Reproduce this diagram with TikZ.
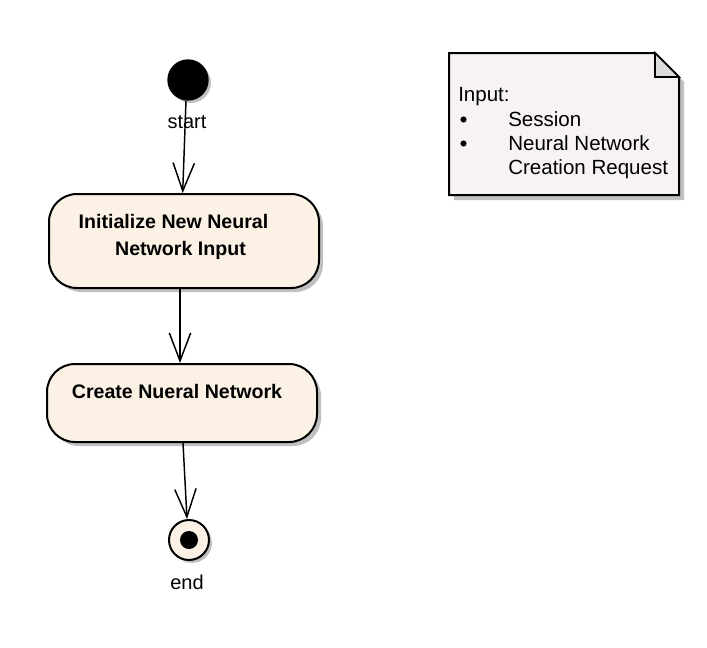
\documentclass[tikz,border=0pt]{standalone}
\usepackage{fontspec}
\setmainfont{Liberation Sans}
\usetikzlibrary{arrows.meta}
\definecolor{actfill}{RGB}{251,241,228}
\definecolor{notefill}{RGB}{246,242,246}
\definecolor{shadowc}{RGB}{192,192,192}
\definecolor{foldc}{RGB}{220,220,220}
\begin{document}
\begin{tikzpicture}[x=0.75pt,y=-0.75pt,
  shadowed/.style={preaction={fill=shadowc, draw=none, transform canvas={shift={(#1,-#1)}}}},
  shadowed/.default=3pt,
  activity/.style={draw=black, line width=1.5pt, fill=actfill, rounded corners=21pt,
    minimum width=202.5pt, inner sep=0pt, shadowed},
  startnode/.style={circle, fill=black, draw=black, line width=1pt, minimum size=30pt, inner sep=0pt, shadowed=2.2pt},
  endnode/.style={circle, fill=actfill, draw=black, line width=1.5pt, minimum size=30pt, inner sep=0pt, shadowed=2.2pt},
  enddot/.style={circle, fill=black, minimum size=13.5pt, inner sep=0pt},
  bulletdot/.style={circle, fill=black, minimum size=4.6pt, inner sep=0pt},
  acttext/.style={font=\bfseries\fontsize{14.7}{17}\selectfont, anchor=base, inner sep=0pt},
  lbl/.style={font=\fontsize{15}{18}\selectfont, anchor=base, inner sep=0pt},
  notetext/.style={font=\fontsize{15.4}{18}\selectfont, anchor=base west, inner sep=0pt},
  conn/.style={line width=1.1pt, -{Straight Barb[length=21pt, width=16pt, line width=1.1pt]}}
]
\useasboundingbox (0,0) rectangle (707,647);
% note
\fill[shadowc] (454,58)--(660,58)--(684,82)--(684,200)--(454,200)--cycle;
\filldraw[fill=notefill, line width=1.5pt, line join=miter] (449,53)--(655,53)--(679,77)--(679,195)--(449,195)--cycle;
\filldraw[fill=foldc, line width=1.2pt, line join=miter] (655,53)--(655,77)--(679,77)--cycle;
\node[notetext] (ninput) at (458,101.5) {Input:};
\node[bulletdot] (nb1) at (463.5,119.5) {};
\node[notetext] (ns1) at (508,126) {Session};
\node[bulletdot] (nb2) at (463.5,143.5) {};
\node[notetext] (ns2) at (508,150) {Neural Network};
\node[notetext] (ns3) at (508,174) {Creation Request};
% flow
\node[startnode] (start) at (188,80) {};
\node[lbl] (startlbl) at (187,128) {start};
\node[activity, minimum height=70.5pt] (act1) at (184,241) {};
\node[acttext] (t1a) at (173.5,228) {Initialize New Neural};
\node[acttext] (t1b) at (180.5,255) {Network Input};
\node[activity, minimum height=58.5pt] (act2) at (182,403) {};
\node[acttext] (t2) at (177,398) {Create Nueral Network};
\node[endnode] (end) at (189,540) {};
\node[enddot] (edot) at (189,540) {};
\node[lbl] (endlbl) at (187,589) {end};
\draw[conn] ([xshift=-1.5pt]start.south) -- ([xshift=-1pt]act1.north);
\draw[conn] ([xshift=-3pt]act1.south) -- ([xshift=-1.5pt]act2.north);
\draw[conn] ([xshift=0.75pt]act2.south) -- ([xshift=-1.5pt]end.north);
\end{tikzpicture}
\end{document}
